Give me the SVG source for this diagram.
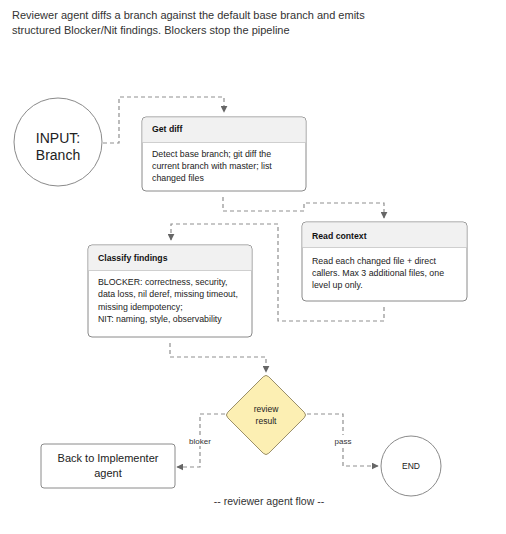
<svg xmlns="http://www.w3.org/2000/svg" width="506" height="534" viewBox="0 0 506 534">
<defs>
<style>
.t{font-family:"Liberation Sans",Arial,sans-serif;fill:#333}
.title{font-size:11px}
.hdr{font-size:8.7px;font-weight:bold;fill:#111}
.body{font-size:8.8px;fill:#222}
.big{font-size:14px;fill:#222}
.mid{font-size:11px;fill:#222}
.sm{font-size:8.5px;fill:#222}
.box{fill:#fff;stroke:#8a8a8a;stroke-width:1}
.head{fill:#f1f1f1}
.div{stroke:#cfcfcf;stroke-width:1}
.conn{fill:none;stroke:#8f8f8f;stroke-width:1.2;stroke-dasharray:4 3}
.lbl{font-size:8px;fill:#333}
</style>
<marker id="arr" viewBox="0 0 10 10" refX="9" refY="5" markerWidth="7" markerHeight="7" markerUnits="userSpaceOnUse" orient="auto">
<path d="M0,0 L10,5 L0,10 Z" fill="#666"/>
</marker>
</defs>
<rect width="506" height="534" fill="#fff"/>
<text class="t title" x="12" y="19">Reviewer agent diffs a branch against the default base branch and emits</text>
<text class="t title" x="12" y="34">structured Blocker/Nit findings. Blockers stop the pipeline</text>

<g id="connectors">
<path class="conn" d="M103,143 H119 V97 H224 V112" marker-end="url(#arr)"/>
<path class="conn" d="M223,197 V211 H304 V203 H384 V218" marker-end="url(#arr)"/>
<path class="conn" d="M384,307 V321 H278 V224 H171 V240" marker-end="url(#arr)"/>
<path class="conn" d="M170,343 V357 H266 V372" marker-end="url(#arr)"/>
<path class="conn" d="M225,414 H200 V467 H177" marker-end="url(#arr)"/>
<path class="conn" d="M307,414 H343 V466 H378" marker-end="url(#arr)"/>
<rect x="188" y="435" width="24" height="11" fill="#fff"/>
<text class="t lbl" x="200" y="444" text-anchor="middle">bloker</text>
<rect x="333" y="435" width="20" height="11" fill="#fff"/>
<text class="t lbl" x="343" y="444" text-anchor="middle">pass</text>
</g>

<g id="input">
<circle cx="58" cy="142" r="44" fill="#fff" stroke="#8a8a8a"/>
<text class="t big" x="58" y="143" text-anchor="middle">INPUT:</text>
<text class="t big" x="58" y="160" text-anchor="middle">Branch</text>
</g>

<g id="getdiff">
<rect class="box" x="142" y="117" width="164" height="74" rx="4"/>
<path class="head" d="M146,117.5 H302 A3.5,3.5 0 0 1 305.5,121 V142 H142.5 V121 A3.5,3.5 0 0 1 146,117.5 Z"/>
<line class="div" x1="142.5" y1="142.5" x2="305.5" y2="142.5"/>
<text class="t hdr" x="152" y="132">Get diff</text>
<text class="t body" x="152" y="157">Detect base branch; git diff the</text>
<text class="t body" x="152" y="169">current branch with master; list</text>
<text class="t body" x="152" y="181">changed files</text>
</g>

<g id="readcontext">
<rect class="box" x="302" y="222" width="165" height="79" rx="4"/>
<path class="head" d="M306,222.5 H463 A3.5,3.5 0 0 1 466.5,226 V247 H302.5 V226 A3.5,3.5 0 0 1 306,222.5 Z"/>
<line class="div" x1="302.5" y1="247.5" x2="466.5" y2="247.5"/>
<text class="t hdr" x="312" y="239">Read context</text>
<text class="t body" x="312" y="264">Read each changed file + direct</text>
<text class="t body" x="312" y="276">callers. Max 3 additional files, one</text>
<text class="t body" x="312" y="288">level up only.</text>
</g>

<g id="classify">
<rect class="box" x="88" y="245" width="164" height="92" rx="4"/>
<path class="head" d="M92,245.5 H248 A3.5,3.5 0 0 1 251.5,249 V270 H88.5 V249 A3.5,3.5 0 0 1 92,245.5 Z"/>
<line class="div" x1="88.5" y1="270.5" x2="251.5" y2="270.5"/>
<text class="t hdr" x="98" y="261">Classify findings</text>
<text class="t body" x="98" y="285">BLOCKER: correctness, security,</text>
<text class="t body" x="98" y="297">data loss, nil deref, missing timeout,</text>
<text class="t body" x="98" y="310">missing idempotency;</text>
<text class="t body" x="98" y="322">NIT: naming, style, observability</text>
</g>

<g id="review">
<path d="M263.2,376.8 Q266,374 268.8,376.8 L304.2,412.2 Q307,415 304.2,417.8 L268.8,453.2 Q266,456 263.2,453.2 L227.8,417.8 Q225,415 227.8,412.2 Z" fill="#fcefb3" stroke="#9a8f6a" stroke-width="1"/>
<text class="t sm" x="266" y="412" text-anchor="middle">review</text>
<text class="t sm" x="266" y="424" text-anchor="middle">result</text>
</g>

<g id="back">
<rect class="box" x="41" y="444" width="134" height="44" rx="3"/>
<text class="t mid" x="108" y="462" text-anchor="middle">Back to Implementer</text>
<text class="t mid" x="108" y="477" text-anchor="middle">agent</text>
</g>

<g id="end">
<circle cx="411" cy="466" r="30" fill="#fff" stroke="#8a8a8a"/>
<text class="t sm" x="411" y="469" text-anchor="middle">END</text>
</g>

<text class="t" x="269" y="505" text-anchor="middle" font-size="10.5">-- reviewer agent flow --</text>
</svg>
